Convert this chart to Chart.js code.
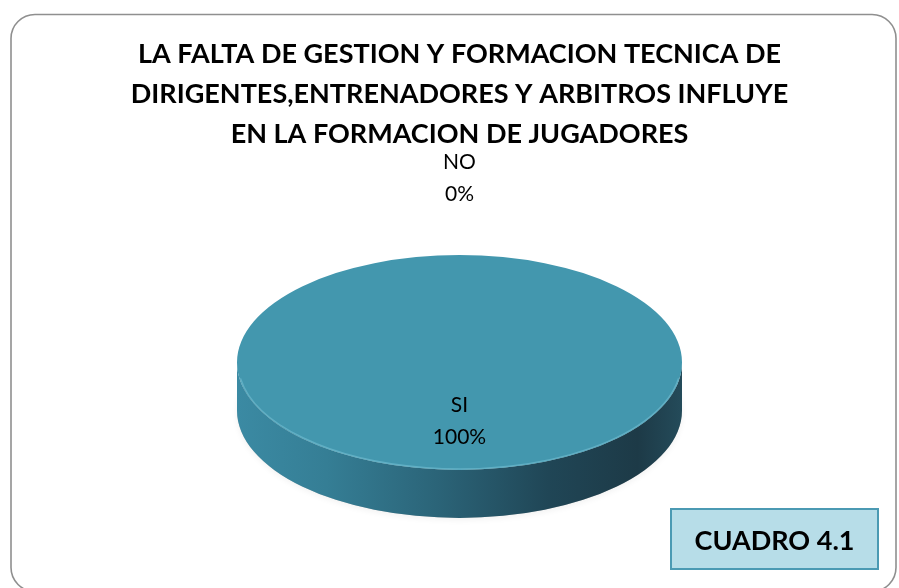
<!DOCTYPE html>
<html>
<head>
<meta charset="utf-8">
<script src="https://cdn.jsdelivr.net/npm/chart.js@4.4.1/dist/chart.umd.min.js"></script>
<style>
  html, body { margin: 0; padding: 0; background: #ffffff; }
  #wrap { position: relative; width: 899px; height: 588px; }
</style>
</head>
<body>
<div id="wrap"><canvas id="c"></canvas></div>
<script>
// ---- data ----
const categories = ['SI', 'NO'];
const percentages = [100, 0];
const titleLines = [
  'LA FALTA DE GESTION Y FORMACION TECNICA DE',
  'DIRIGENTES,ENTRENADORES Y ARBITROS INFLUYE',
  'EN LA FORMACION DE JUGADORES'
];
const boxLabel = 'CUADRO 4.1';
const sliceColors = ['#4397ae', '#c0504d'];

// ---- helpers ----
function frontSegments(s, e) {
  const out = [];
  for (let n = -2; n <= 2; n++) {
    const lo = Math.max(s, 2 * Math.PI * n);
    const hi = Math.min(e, Math.PI + 2 * Math.PI * n);
    if (hi > lo) out.push([lo, hi]);
  }
  return out;
}

const frame = {
  id: 'frame',
  beforeDraw(chart) {
    const ctx = chart.ctx;
    ctx.save();
    ctx.fillStyle = '#ffffff';
    ctx.fillRect(0, 0, chart.width, chart.height);
    ctx.beginPath();
    ctx.roundRect(11, 14.5, 885, 577, 24);
    ctx.strokeStyle = '#8f8f8f';
    ctx.lineWidth = 1.6;
    ctx.stroke();
    ctx.restore();
  }
};

const pie3d = {
  id: 'pie3d',
  beforeDatasetsDraw(chart, args, opts) {
    const meta = chart.getDatasetMeta(0);
    const ctx = chart.ctx;
    const a0 = meta.data[0];
    const cx = a0.x, cy = a0.y, r = a0.outerRadius;
    const k = opts.tilt, depth = opts.depth;
    ctx.save();
    // soft shadow under the body
    ctx.save();
    ctx.beginPath();
    ctx.ellipse(cx, cy + depth, r, r * k, 0, 0, Math.PI * 2);
    ctx.fillStyle = 'rgba(0,0,0,0.2)';
    ctx.shadowColor = 'rgba(0,0,0,0.3)';
    ctx.shadowBlur = 6;
    ctx.shadowOffsetY = 2;
    ctx.fill();
    ctx.restore();
    // side walls
    const grad = ctx.createLinearGradient(cx - r, 0, cx + r, 0);
    grad.addColorStop(0, '#3b8aa3');
    grad.addColorStop(0.2, '#357e95');
    grad.addColorStop(0.45, '#2b6478');
    grad.addColorStop(0.7, '#204656');
    grad.addColorStop(0.9, '#1d3a47');
    grad.addColorStop(1, '#244b5a');
    meta.data.forEach((arc) => {
      frontSegments(arc.startAngle, arc.endAngle).forEach(([s, e]) => {
        ctx.beginPath();
        ctx.ellipse(cx, cy, r, r * k, 0, s, e);
        ctx.ellipse(cx, cy + depth, r, r * k, 0, e, s, true);
        ctx.closePath();
        ctx.fillStyle = grad;
        ctx.fill();
      });
    });
    // squash the top face drawn by Chart.js
    ctx.translate(cx, cy);
    ctx.scale(1, k);
    ctx.translate(-cx, -cy);
  },
  afterDatasetsDraw(chart, args, opts) {
    const ctx = chart.ctx;
    ctx.restore();
    const meta = chart.getDatasetMeta(0);
    const a0 = meta.data[0];
    const cx = a0.x, cy = a0.y, r = a0.outerRadius, k = opts.tilt;
    // light rim on the front edge of the top face
    ctx.save();
    ctx.beginPath();
    ctx.ellipse(cx, cy, r - 1, r * k - 1, 0, 0.15, Math.PI - 0.15);
    ctx.strokeStyle = 'rgba(120,195,215,0.55)';
    ctx.lineWidth = 1.5;
    ctx.stroke();
    ctx.restore();
  }
};

const labels3d = {
  id: 'labels3d',
  afterDraw(chart, args, opts) {
    const meta = chart.getDatasetMeta(0);
    const ctx = chart.ctx;
    const k = opts.tilt;
    ctx.save();
    ctx.font = '21px Lato';
    ctx.fillStyle = '#000000';
    ctx.textAlign = 'center';
    ctx.textBaseline = 'middle';
    meta.data.forEach((arc, i) => {
      const mid = (arc.startAngle + arc.endAngle) / 2;
      const span = arc.endAngle - arc.startAngle;
      const cx = arc.x, cy = arc.y, r = arc.outerRadius;
      let px, py;
      if (span > 0.3) {
        px = cx + Math.cos(mid) * r * 0.55;
        py = cy + Math.sin(mid) * r * 0.55 * k;
      } else {
        const ex = cx + Math.cos(mid) * r;
        const ey = cy + Math.sin(mid) * r * k;
        px = ex + Math.cos(mid) * 77;
        py = ey + Math.sin(mid) * 77;
      }
      ctx.fillText(categories[i], px, py - 16);
      ctx.fillText(percentages[i] + '%', px, py + 16);
    });
    // CUADRO box
    ctx.fillStyle = '#b7dde8';
    ctx.fillRect(671, 509, 207, 60);
    ctx.strokeStyle = '#4b9ab3';
    ctx.lineWidth = 2;
    ctx.strokeRect(671, 509, 207, 60);
    ctx.fillStyle = '#000000';
    ctx.font = 'bold 27px Lato';
    ctx.fillText(boxLabel, 774.5, 541);
    ctx.restore();
  }
};

Chart.defaults.font.family = 'Lato';

new Chart(document.getElementById('c'), {
  type: 'pie',
  data: {
    labels: categories,
    datasets: [{
      data: percentages,
      backgroundColor: sliceColors,
      borderWidth: 0,
      radius: 222.5
    }]
  },
  options: {
    responsive: true,
    maintainAspectRatio: false,
    animation: false,
    layout: { padding: { left: 20, right: 0, top: 0, bottom: 17 } },
    plugins: {
      legend: { display: false },
      tooltip: { enabled: false },
      title: {
        display: true,
        text: titleLines,
        color: '#000000',
        font: { family: 'Lato', size: 27, weight: 'bold', lineHeight: 1.48 },
        padding: { top: 34, bottom: 0 }
      },
      pie3d: { tilt: 0.483, depth: 48 },
      labels3d: { tilt: 0.483 }
    }
  },
  plugins: [frame, pie3d, labels3d]
});
</script>
</body>
</html>
